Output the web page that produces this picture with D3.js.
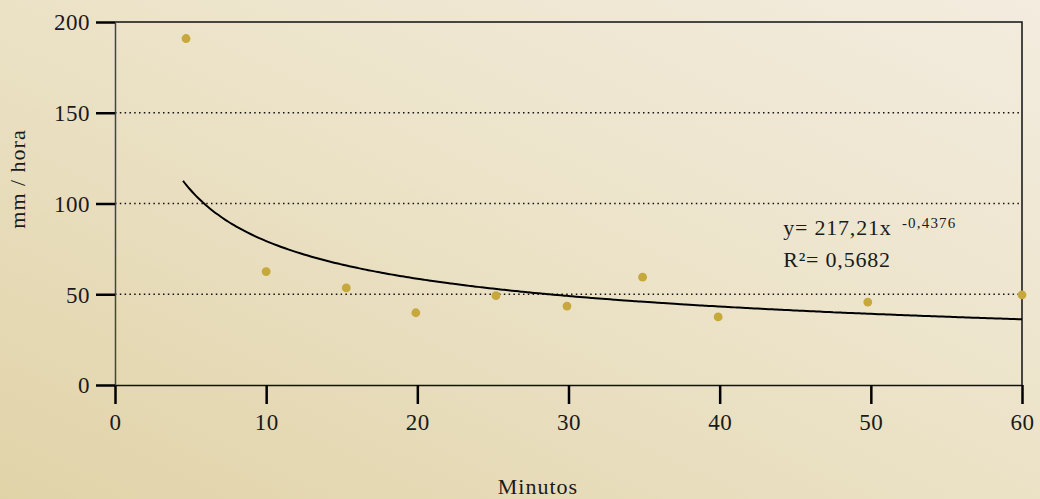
<!DOCTYPE html>
<html>
<head>
<meta charset="utf-8">
<script src="https://d3js.org/d3.v7.min.js"></script>
<style>
  body { margin: 0; }
  svg { display: block; font-family: "Liberation Serif", "DejaVu Serif", serif; }
</style>
</head>
<body>
<div id="chart"></div>
<script>
var svgWidth = 1040;
var svgHeight = 499;

var margin = { top: 22, right: 18, bottom: 114, left: 115 };
var width = svgWidth - margin.left - margin.right;
var height = svgHeight - margin.top - margin.bottom;

// Data
var minutes = [4.7, 10.0, 15.3, 19.9, 25.2, 29.9, 34.9, 39.9, 49.8, 60.0];
var intensity = [190.9, 62.5, 53.5, 39.8, 49.2, 43.5, 59.4, 37.5, 45.7, 49.7];
var xTicks = [0, 10, 20, 30, 40, 50, 60];
var yTicks = [0, 50, 100, 150, 200];
var gridValues = [50, 100, 150];

// Power trendline, from the equation shown on the chart
var coefA = 217.21;
var coefB = -0.4376;
var trendStart = 4.5;
var trendEnd = 60;

var svg = d3.select("#chart")
  .append("svg")
  .attr("width", svgWidth)
  .attr("height", svgHeight);

// background gradient
var defs = svg.append("defs");
var grad = defs.append("linearGradient")
  .attr("id", "bg")
  .attr("x1", "0%").attr("y1", "100%")
  .attr("x2", "100%").attr("y2", "0%");
grad.append("stop").attr("offset", "0%").attr("stop-color", "#e1d3a8");
grad.append("stop").attr("offset", "55%").attr("stop-color", "#ece3c9");
grad.append("stop").attr("offset", "100%").attr("stop-color", "#f3ecdf");

svg.append("rect")
  .attr("width", svgWidth)
  .attr("height", svgHeight)
  .attr("fill", "url(#bg)");

var chartGroup = svg.append("g")
  .attr("transform", `translate(${margin.left}, ${margin.top})`);

var x = d3.scaleLinear().domain([0, 60]).range([0, width]);
var y = d3.scaleLinear().domain([0, 200]).range([height, 0]);

// dotted gridlines
chartGroup.selectAll(".grid")
  .data(gridValues)
  .enter()
  .append("line")
  .attr("x1", 0)
  .attr("x2", width)
  .attr("y1", d => y(d))
  .attr("y2", d => y(d))
  .attr("stroke", "#111")
  .attr("stroke-width", 1.5)
  .attr("stroke-dasharray", "1.5,3.3");

// frame (top and right)
chartGroup.append("path")
  .attr("d", `M0,0H${width}V${height}`)
  .attr("fill", "none")
  .attr("stroke", "#111")
  .attr("stroke-width", 1.5);

// axes
var bottomAxis = d3.axisBottom(x).tickValues(xTicks).tickSize(19).tickPadding(10).tickSizeOuter(0);
var leftAxis = d3.axisLeft(y).tickValues(yTicks).tickSize(19).tickPadding(6).tickSizeOuter(0);

var xAxisG = chartGroup.append("g")
  .attr("transform", `translate(0, ${height})`)
  .call(bottomAxis);

var yAxisG = chartGroup.append("g")
  .call(leftAxis);

[xAxisG, yAxisG].forEach(function(g) {
  g.select(".domain").attr("stroke", "#111").attr("stroke-width", 1.5);
  g.selectAll(".tick line").attr("stroke", "#000").attr("stroke-width", 2.5);
  g.selectAll(".tick text")
    .attr("fill", "#1a1a1a")
    .style("font-family", "Liberation Serif, serif")
    .style("font-size", "23px")
    .style("letter-spacing", "0.5px");
});
yAxisG.select(".domain").attr("stroke", "#444");
yAxisG.selectAll(".tick text").attr("dy", "0.34em");

// trendline
var trendX = d3.range(trendStart, trendEnd + 0.001, 0.25);
var line = d3.line()
  .x(d => x(d))
  .y(d => y(coefA * Math.pow(d, coefB)))
  .curve(d3.curveBasis);

chartGroup.append("path")
  .datum(trendX)
  .attr("d", line)
  .attr("fill", "none")
  .attr("stroke", "#000")
  .attr("stroke-width", 2);

// points
chartGroup.selectAll("circle")
  .data(minutes)
  .enter()
  .append("circle")
  .attr("cx", d => x(d))
  .attr("cy", (d, i) => y(intensity[i]))
  .attr("r", 4.4)
  .attr("fill", "#c7a83c");

// equation label
var eq = chartGroup.append("text")
  .attr("x", x(44.2))
  .attr("y", y(82.6))
  .attr("fill", "#1a1a1a")
  .style("font-size", "22px")
  .style("letter-spacing", "0.8px");
eq.append("tspan").text("y= 217,21x ");
eq.append("tspan")
  .attr("dx", "4")
  .attr("dy", "-7")
  .style("font-size", "15px")
  .style("letter-spacing", "1.2px")
  .text("-0,4376");

chartGroup.append("text")
  .attr("x", x(44.2))
  .attr("y", y(65.0))
  .attr("fill", "#1a1a1a")
  .style("font-size", "22px")
  .style("letter-spacing", "0.8px")
  .text("R²= 0,5682");

// axis labels
svg.append("text")
  .attr("transform", "rotate(-90)")
  .attr("x", -179)
  .attr("y", 25)
  .attr("text-anchor", "middle")
  .attr("fill", "#1a1a1a")
  .style("font-size", "22px")
  .style("letter-spacing", "1px")
  .text("mm / hora");

svg.append("text")
  .attr("x", 538)
  .attr("y", 494)
  .attr("text-anchor", "middle")
  .attr("fill", "#1a1a1a")
  .style("font-size", "22px")
  .style("letter-spacing", "1px")
  .text("Minutos");
</script>
</body>
</html>
